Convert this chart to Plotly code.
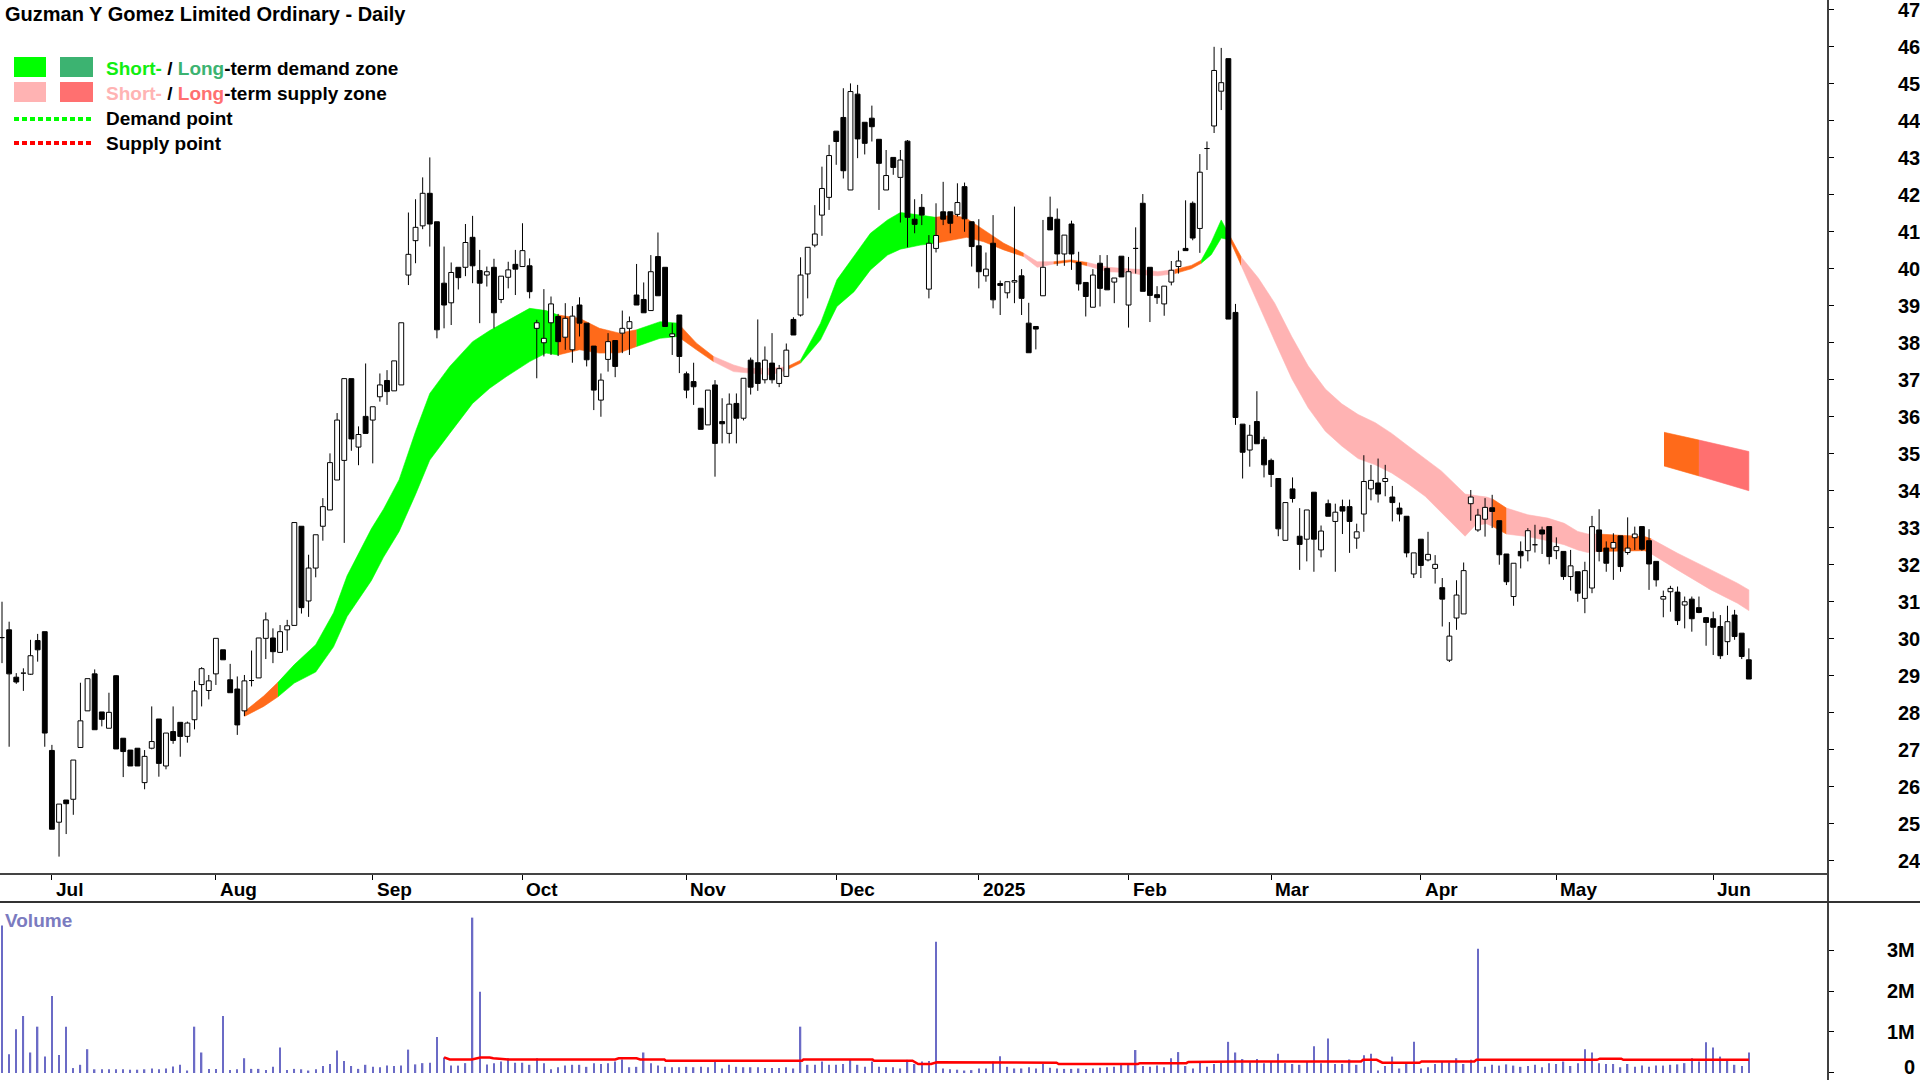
import plotly.graph_objects as go
import pandas as pd

W, H = 1920, 1080

title_text = "Guzman Y Gomez Limited Ordinary - Daily"

asx_holidays = ["2024-12-25", "2024-12-26", "2025-01-01", "2025-01-27",
                "2025-04-18", "2025-04-21", "2025-04-25", "2025-06-09"]
trade_days = [d for d in pd.bdate_range("2024-06-20", "2025-06-10")
              if d.strftime("%Y-%m-%d") not in asx_holidays]

opens = [30.03, 30.24, 28.96, 29.07, 29.04, 29.95, 30.19, 26.98, 25.04, 25.64,
         25.66, 27.06, 28.05, 29.05, 28.02, 27.58, 29.0, 27.31, 26.99, 27.04,
         26.11, 27.04, 27.83, 26.56, 27.49, 27.74, 27.36, 27.81, 28.76, 28.6,
         29.05, 29.7, 28.89, 28.64, 28.05, 28.87, 28.94, 30.01, 30.02, 29.63,
         30.24, 30.36, 33.04, 31.02, 31.91, 33.04, 33.48, 34.29, 34.82, 37.03,
         35.18, 36.01, 35.91, 36.54, 36.98, 36.7, 36.86, 39.83, 40.76, 41.16,
         42.04, 41.27, 39.61, 39.08, 40.04, 40.04, 40.85, 39.95, 39.83, 40.04,
         39.17, 39.77, 40.12, 40.06, 40.08, 38.39, 38.0, 38.54, 38.71, 38.15,
         37.81, 39.02, 38.53, 37.91, 36.45, 37.55, 38.06, 38.26, 38.39, 39.29,
         39.17, 38.87, 40.33, 40.04, 38.17, 38.75, 37.16, 36.95, 36.23, 35.78,
         36.86, 35.87, 35.55, 36.36, 35.96, 37.53, 37.46, 37.0, 37.45, 36.9,
         37.09, 38.63, 38.75, 39.86, 40.64, 41.45, 41.93, 43.72, 44.09, 42.13,
         44.72, 43.96, 44.07, 43.5, 42.13, 43.01, 42.47, 43.45, 41.34, 41.66,
         39.45, 40.55, 41.54, 41.54, 41.47, 42.22, 41.27, 40.62, 39.81, 40.69,
         39.6, 39.35, 39.64, 39.81, 38.53, 38.44, 39.27, 41.39, 41.34, 40.4,
         41.21, 40.17, 39.63, 38.96, 40.15, 40.01, 39.64, 40.34, 39.02, 40.55,
         41.77, 40.04, 39.3, 39.05, 39.64, 40.06, 40.55, 41.77, 41.09, 43.25,
         43.86, 44.8, 45.68, 38.82, 35.8, 35.1, 35.87, 35.38, 34.82, 34.33,
         32.66, 34.05, 32.77, 32.69, 33.96, 32.4, 33.65, 33.17, 33.57, 33.57,
         32.72, 33.37, 34.05, 34.21, 34.25, 33.83, 33.53, 33.31, 31.75, 32.69,
         32.13, 31.9, 31.38, 29.42, 30.56, 30.67, 33.65, 32.94, 33.23, 33.54,
         33.19, 32.29, 31.14, 32.36, 32.38, 32.54, 32.94, 33.03, 32.38, 32.36,
         31.68, 31.81, 31.09, 31.37, 32.94, 32.45, 32.45, 32.78, 32.33, 32.73,
         33.03, 32.65, 32.09, 31.07, 31.27, 31.26, 30.91, 31.07, 30.84, 30.57,
         30.54, 30.33, 29.92, 30.64, 30.15, 29.43]

highs = [31.0, 30.46, 29.07, 29.2, 29.97, 30.13, 30.19, 27.13, 25.53, 25.64,
         26.72, 28.81, 28.92, 29.17, 28.02, 28.54, 29.02, 27.31, 26.99, 27.04,
         26.99, 28.17, 27.83, 27.45, 28.17, 27.74, 27.76, 28.86, 29.23, 29.02,
         30.01, 29.7, 29.32, 28.98, 29.02, 29.68, 30.02, 30.71, 30.28, 30.37,
         30.51, 33.14, 33.04, 32.27, 32.81, 33.8, 35.01, 36.1, 37.03, 37.03,
         35.74, 37.44, 36.27, 37.17, 37.26, 37.51, 38.54, 41.52, 41.88, 42.47,
         43.01, 41.27, 40.6, 40.17, 40.04, 41.21, 41.43, 40.51, 40.06, 40.27,
         39.8, 40.19, 40.51, 41.23, 40.28, 38.62, 39.45, 39.25, 38.78, 39.07,
         38.99, 39.23, 38.53, 37.91, 37.17, 38.26, 38.06, 38.87, 38.71, 40.13,
         39.63, 40.37, 40.98, 40.04, 38.53, 38.75, 37.22, 37.46, 36.23, 36.72,
         36.99, 36.5, 36.63, 36.63, 37.04, 37.6, 38.63, 37.9, 38.26, 37.4,
         37.98, 38.69, 40.31, 40.58, 41.72, 42.76, 43.35, 43.72, 44.88, 45.01,
         44.97, 43.96, 44.41, 43.5, 43.21, 43.01, 43.21, 43.48, 41.88, 42.02,
         40.91, 41.77, 42.35, 41.54, 42.31, 42.33, 41.27, 41.34, 40.44, 41.45,
         39.68, 39.65, 41.68, 39.99, 39.08, 38.44, 41.32, 41.95, 41.63, 40.91,
         41.3, 40.46, 39.63, 39.99, 40.37, 40.37, 39.75, 40.34, 40.32, 41.12,
         42.02, 40.04, 39.53, 39.53, 40.21, 40.49, 41.85, 41.82, 43.1, 43.44,
         46.0, 45.97, 45.68, 39.05, 35.8, 35.78, 36.69, 35.46, 34.87, 34.33,
         33.68, 34.36, 33.53, 33.48, 33.96, 33.06, 33.76, 33.65, 33.76, 33.76,
         33.11, 34.96, 34.7, 34.87, 34.7, 34.13, 33.68, 33.31, 32.32, 32.69,
         32.89, 32.26, 31.64, 30.45, 31.58, 32.06, 34.02, 33.51, 33.8, 33.89,
         33.19, 32.29, 32.04, 32.63, 32.99, 33.08, 33.03, 33.03, 32.74, 32.36,
         32.4, 31.81, 32.08, 33.32, 33.5, 32.63, 32.85, 32.78, 33.28, 33.03,
         33.03, 32.96, 32.09, 31.3, 31.43, 31.41, 31.14, 31.14, 31.14, 30.58,
         30.73, 30.64, 30.89, 30.78, 30.15, 29.74]

lows = [29.34, 27.08, 28.78, 28.59, 29.02, 29.38, 27.08, 24.85, 24.11, 24.72,
        25.24, 27.06, 28.05, 27.54, 27.63, 27.58, 27.02, 26.26, 26.56, 26.56,
        25.93, 27.01, 26.27, 26.47, 27.16, 26.81, 27.19, 27.55, 28.17, 28.36,
        28.75, 29.43, 28.54, 27.4, 27.91, 28.71, 28.94, 29.45, 29.34, 29.63,
        29.68, 30.36, 30.68, 30.59, 31.66, 32.65, 33.48, 34.29, 32.59, 35.08,
        34.69, 35.55, 34.74, 36.41, 36.32, 36.7, 36.86, 39.56, 40.15, 41.07,
        40.6, 38.12, 38.39, 38.48, 39.44, 39.8, 39.61, 38.53, 39.52, 38.39,
        39.07, 39.47, 39.29, 40.06, 39.2, 37.04, 37.63, 37.67, 37.64, 37.81,
        37.46, 38.17, 37.36, 36.18, 36.0, 37.22, 37.07, 37.72, 37.67, 39.02,
        38.81, 38.87, 39.27, 38.44, 37.67, 37.18, 36.5, 36.32, 35.66, 35.78,
        34.38, 35.28, 35.28, 35.28, 35.9, 36.6, 36.7, 36.9, 36.9, 36.8,
        37.09, 38.21, 38.71, 39.2, 40.58, 40.89, 41.59, 42.81, 42.44, 42.13,
        42.99, 43.09, 43.44, 41.59, 42.13, 42.54, 41.25, 40.58, 40.96, 41.18,
        39.2, 40.44, 41.18, 40.96, 41.41, 41.0, 40.06, 39.47, 39.65, 38.93,
        38.75, 39.2, 39.07, 38.75, 37.73, 37.82, 39.27, 41.05, 40.08, 40.08,
        39.97, 39.41, 38.71, 38.96, 38.98, 39.43, 39.07, 39.78, 38.41, 39.87,
        39.39, 38.56, 39.05, 38.73, 39.55, 39.87, 40.49, 40.77, 40.43, 42.67,
        43.67, 44.29, 38.64, 35.78, 34.33, 34.65, 35.27, 34.36, 34.1, 32.77,
        32.66, 33.68, 31.86, 32.09, 31.81, 32.2, 33.31, 31.81, 32.83, 32.32,
        32.43, 32.89, 33.74, 33.68, 33.85, 33.17, 33.17, 32.2, 31.64, 31.64,
        32.09, 31.49, 30.33, 29.37, 30.24, 30.67, 33.19, 32.89, 32.76, 32.99,
        32.0, 31.45, 30.89, 31.9, 32.09, 32.33, 32.29, 32.01, 32.15, 31.59,
        31.3, 31.0, 30.69, 31.23, 32.09, 31.81, 31.59, 31.81, 32.27, 32.4,
        32.38, 31.32, 31.41, 30.58, 30.73, 30.37, 30.28, 30.19, 30.69, 29.81,
        29.56, 29.45, 29.56, 29.97, 29.45, 28.91]

closes = [30.04, 29.05, 28.83, 29.08, 29.54, 29.7, 27.45, 24.85, 25.53, 25.54,
          26.72, 27.78, 28.92, 27.54, 27.82, 28.01, 27.02, 26.95, 26.56, 26.56,
          26.82, 27.22, 26.63, 27.45, 27.25, 27.36, 27.72, 28.59, 29.19, 28.86,
          30.01, 29.43, 28.54, 27.67, 28.86, 28.88, 30.02, 30.51, 29.65, 30.19,
          30.35, 33.14, 30.84, 31.91, 32.81, 33.57, 34.76, 35.91, 37.03, 35.4,
          35.52, 35.55, 36.27, 36.86, 36.68, 37.51, 38.54, 40.39, 41.12, 42.04,
          41.21, 38.35, 39.02, 39.9, 39.76, 40.71, 40.08, 39.61, 39.92, 38.81,
          39.8, 39.97, 39.99, 40.49, 39.38, 38.54, 38.12, 39.05, 38.03, 38.66,
          38.72, 38.53, 37.54, 36.72, 36.99, 38.03, 37.36, 38.39, 38.57, 39.02,
          38.81, 39.92, 39.27, 38.44, 38.24, 37.63, 36.72, 36.81, 35.66, 36.72,
          35.28, 35.81, 36.34, 35.96, 37.04, 36.8, 36.9, 37.53, 37.0, 37.3,
          37.8, 38.21, 39.83, 40.58, 40.94, 42.17, 43.06, 43.44, 42.65, 44.79,
          43.51, 43.39, 43.84, 42.85, 42.52, 42.74, 42.94, 41.39, 41.2, 41.45,
          40.69, 40.9, 41.34, 41.23, 41.79, 41.35, 40.6, 39.92, 39.99, 39.16,
          39.55, 39.65, 39.68, 39.2, 37.73, 38.37, 40.04, 41.05, 40.4, 40.91,
          40.4, 39.59, 39.25, 39.83, 39.47, 39.43, 39.75, 39.78, 39.92, 40.56,
          39.39, 39.28, 39.22, 39.53, 39.96, 40.21, 40.49, 40.83, 42.61, 43.26,
          45.36, 45.03, 38.64, 35.98, 35.04, 35.5, 35.27, 34.7, 34.44, 32.97,
          33.68, 33.79, 32.55, 33.48, 32.69, 32.91, 33.31, 33.42, 33.45, 33.17,
          32.89, 34.25, 34.28, 33.91, 34.33, 33.68, 33.37, 32.32, 32.32, 31.98,
          32.28, 32.01, 31.07, 30.07, 31.18, 31.84, 33.83, 33.34, 33.55, 33.44,
          32.27, 31.54, 32.04, 32.24, 32.92, 32.56, 32.83, 32.22, 32.49, 31.68,
          31.97, 31.23, 31.84, 33.03, 32.36, 32.04, 32.6, 31.95, 32.45, 32.83,
          32.42, 32.02, 31.59, 31.14, 31.36, 30.49, 31.0, 30.54, 30.71, 30.44,
          30.31, 29.54, 30.46, 30.06, 29.52, 28.91]

volume_m = [3.6, 0.46, 1.07, 1.39, 0.5, 1.13, 0.4, 1.88, 0.44, 1.13,
            0.12, 0.2, 0.58, 0.09, 0.09, 0.09, 0.09, 0.09, 0.08, 0.08,
            0.09, 0.11, 0.09, 0.11, 0.16, 0.2, 0.06, 1.13, 0.5, 0.1,
            0.1, 1.39, 0.07, 0.09, 0.36, 0.1, 0.1, 0.07, 0.15, 0.62,
            0.07, 0.1, 0.09, 0.06, 0.09, 0.17, 0.22, 0.55, 0.29, 0.17,
            0.1, 0.2, 0.15, 0.14, 0.18, 0.17, 0.18, 0.57, 0.21, 0.24,
            0.25, 0.88, 0.38, 0.18, 0.18, 0.24, 3.79, 1.98, 0.21, 0.24,
            0.28, 0.36, 0.25, 0.25, 0.2, 0.36, 0.24, 0.09, 0.14, 0.18,
            0.2, 0.2, 0.15, 0.24, 0.22, 0.24, 0.28, 0.33, 0.14, 0.15,
            0.5, 0.24, 0.18, 0.15, 0.14, 0.14, 0.15, 0.14, 0.15, 0.14,
            0.28, 0.11, 0.2, 0.15, 0.14, 0.14, 0.14, 0.12, 0.12, 0.12,
            0.14, 0.11, 1.13, 0.2, 0.2, 0.28, 0.2, 0.2, 0.22, 0.33,
            0.2, 0.15, 0.28, 0.15, 0.14, 0.14, 0.11, 0.32, 0.22, 0.28,
            0.29, 3.2, 0.11, 0.09, 0.08, 0.06, 0.07, 0.11, 0.11, 0.28,
            0.41, 0.15, 0.11, 0.11, 0.14, 0.11, 0.22, 0.13, 0.11, 0.1,
            0.1, 0.11, 0.1, 0.11, 0.13, 0.14, 0.15, 0.2, 0.21, 0.56,
            0.17, 0.15, 0.18, 0.14, 0.36, 0.51, 0.17, 0.11, 0.28, 0.15,
            0.22, 0.25, 0.76, 0.5, 0.34, 0.26, 0.34, 0.24, 0.28, 0.47,
            0.24, 0.22, 0.2, 0.28, 0.65, 0.24, 0.84, 0.22, 0.22, 0.33,
            0.2, 0.43, 0.47, 0.06, 0.17, 0.4, 0.11, 0.22, 0.76, 0.11,
            0.14, 0.22, 0.28, 0.26, 0.36, 0.22, 0.32, 3.03, 0.15, 0.2,
            0.18, 0.21, 0.18, 0.15, 0.17, 0.2, 0.14, 0.24, 0.22, 0.28,
            0.17, 0.24, 0.58, 0.5, 0.24, 0.22, 0.22, 0.14, 0.22, 0.15,
            0.18, 0.15, 0.18, 0.18, 0.2, 0.21, 0.24, 0.36, 0.28, 0.75,
            0.62, 0.4, 0.32, 0.2, 0.17, 0.5]

# volume moving-average line (read at its steps)
vma_idx = [62, 62.8, 65.9, 67.1, 68.4, 68.9, 71, 86, 86.5, 89, 89.5, 92.9, 93.1,
           112.2, 112.4, 122.1, 122.3, 127.7, 128.5, 130.3, 131.1, 147.9, 148.2,
           159.3, 159.6, 166.1, 166.4, 173.4, 190.6, 190.9, 192.8, 193.6, 198.8,
           199.1, 206.5, 206.8, 223.7, 224.1, 227.1, 227.4, 245]
vma_val = [0.38, 0.33, 0.33, 0.38, 0.38, 0.36, 0.33, 0.33, 0.36, 0.36, 0.33, 0.33, 0.30,
           0.30, 0.33, 0.33, 0.30, 0.30, 0.22, 0.22, 0.26, 0.25, 0.22,
           0.22, 0.24, 0.24, 0.27, 0.28, 0.28, 0.32, 0.32, 0.25, 0.25,
           0.28, 0.28, 0.32, 0.32, 0.35, 0.35, 0.32, 0.32]

# short-term demand/supply zone band
zone_idx = [34, 36.7, 38.7, 41, 44, 46.5, 48.4, 51.8, 53.5, 55.7, 58, 60, 62.8, 66, 68.4,
            70.7, 74, 76.3, 78, 81, 83.8, 86.6, 89, 92.3, 94.8, 97.4, 99.8, 102.6, 104.2,
            107.8, 110.1, 112, 114.8, 117.1, 119.5, 121.8, 124.2, 126, 128.8, 130.9, 133.5,
            135.3, 137.7, 140.5, 143.3, 145.2, 147.5, 149.9, 152.2, 155.1, 157.9, 159.8,
            162.1, 164.5, 166.8, 168.2, 169.6, 171, 172.2, 173.8, 176.2, 178.5, 180.9,
            183.2, 185.6, 187.9, 190.2, 192.6, 194.9, 197.2, 199.6, 201.9, 204.3, 205.2,
            206.6, 208.2, 209.1, 211, 214, 216.8, 219.1, 221, 222.4, 223.8, 226.6, 230.4,
            231.3, 235, 239.7, 243.4, 245]
zone_upper = [28.03, 28.45, 28.82, 29.3, 29.84, 30.7, 31.7, 32.97, 33.5, 34.3, 35.6, 36.63,
              37.36, 38.03, 38.33, 38.57, 38.93, 38.87, 38.75, 38.66, 38.39, 38.26, 38.35,
              38.57, 38.53, 37.99, 37.63, 37.4, 37.31, 37.31, 37.35, 37.53, 38.53, 39.7,
              40.33, 40.96, 41.32, 41.52, 41.45, 41.39, 41.45, 41.36, 41.05, 40.69, 40.42,
              40.19, 40.19, 40.24, 40.17, 40.04, 40.0, 39.98, 39.92, 39.98, 40.09, 40.23,
              40.72, 41.32, 40.89, 40.32, 39.75, 39.07, 38.16, 37.37, 36.75, 36.35, 36.06,
              35.84, 35.55, 35.21, 34.87, 34.53, 34.08, 33.91, 33.87, 33.83, 33.77, 33.53,
              33.35, 33.26, 33.12, 32.9, 32.83, 32.83, 32.8, 32.76, 32.7, 32.31, 31.86,
              31.5, 31.32]
zone_lower = [27.9, 28.17, 28.43, 28.8, 29.1, 29.78, 30.6, 31.57, 32.2, 32.9, 33.9, 34.83,
              35.55, 36.36, 36.77, 37.08, 37.49, 37.72, 37.67, 37.81, 37.72, 37.73, 37.9,
              38.12, 38.17, 37.81, 37.49, 37.22, 37.18, 37.13, 37.27, 37.45, 38.08, 38.98,
              39.38, 39.97, 40.37, 40.53, 40.64, 40.69, 40.78, 40.85, 40.73, 40.51, 40.33,
              40.04, 40.13, 40.19, 40.08, 39.92, 39.9, 39.84, 39.81, 39.87, 40.0, 40.15,
              40.38, 40.83, 40.78, 40.09, 39.07, 38.05, 37.03, 36.24, 35.61, 35.21, 34.87,
              34.7, 34.48, 34.19, 33.85, 33.4, 32.94, 32.77, 33.06, 33.11, 33.03, 32.83,
              32.76, 32.65, 32.54, 32.4, 32.33, 32.36, 32.38, 32.38, 32.3, 31.86, 31.32,
              30.96, 30.76]
zone_segments = [(34, 38.7, "orange"), (38.7, 78, "green"), (78, 89, "orange"),
                 (89, 94.8, "green"), (94.8, 99.8, "orange"), (99.8, 110.1, "pink"),
                 (110.1, 112, "orange"), (112, 130.9, "green"), (130.9, 143.3, "orange"),
                 (143.3, 147.5, "pink"), (147.5, 152.2, "orange"), (152.2, 164.5, "pink"),
                 (164.5, 168.2, "orange"), (168.2, 172.2, "green"), (172.2, 173.8, "orange"),
                 (173.8, 209.1, "pink"), (209.1, 211, "orange"), (211, 223.8, "pink"),
                 (223.8, 231.3, "orange"), (231.3, 245, "pink")]

# long-term supply zone block
lt_idx = [233.1, 238, 245]
lt_upper = [35.58, 35.37, 35.06]
lt_lower = [34.67, 34.4, 34.0]
lt_segments = [(233.1, 238, "orange"), (238, 245, "salmon")]

month_labels = ["Jul", "Aug", "Sep", "Oct", "Nov", "Dec", "2025", "Feb", "Mar", "Apr", "May", "Jun"]
price_ticks = list(range(24, 48))
volume_ticks = [0, 1, 2, 3]
volume_tick_text = ["0", "1M", "2M", "3M"]

COLORS = {"green": "#00FF00", "orange": "#FF6A1A", "pink": "#FFB3B3", "salmon": "#FF7070"}
FONT = "Liberation Sans, Arial, sans-serif"

n = len(trade_days)
xs = list(range(n))
month_pos = [i for i in range(1, n) if trade_days[i].month != trade_days[i - 1].month]


def px(x):
    return x / W


def py(y):
    return 1 - y / H


fig = go.Figure()


def add_band(idx, up, lo, a, b, color):
    pts = [(i, u, l) for i, u, l in zip(idx, up, lo) if a - 1e-9 <= i <= b + 1e-9]
    bx = [p[0] for p in pts] + [p[0] for p in reversed(pts)]
    by = [p[1] for p in pts] + [p[2] for p in reversed(pts)]
    fig.add_trace(go.Scatter(x=bx, y=by, fill="toself", fillcolor=color, mode="lines",
                             line=dict(width=0.6, color=color), hoverinfo="skip",
                             xaxis="x", yaxis="y"))


for a, b, c in zone_segments:
    add_band(zone_idx, zone_upper, zone_lower, a, b, COLORS[c])
for a, b, c in lt_segments:
    add_band(lt_idx, lt_upper, lt_lower, a, b, COLORS[c])

# volume
fig.add_trace(go.Bar(x=xs, y=volume_m, width=0.2, marker=dict(color="#6B6BC6", line=dict(width=0)),
                     hoverinfo="skip", xaxis="x2", yaxis="y2"))
fig.add_trace(go.Scatter(x=vma_idx, y=vma_val, mode="lines", line=dict(color="#FF0000", width=2.5),
                         hoverinfo="skip", xaxis="x2", yaxis="y2"))

# candles: wicks then bodies
wx, wy = [], []
bw_x, bw_y, bb_x, bb_y = [], [], [], []
hw = 0.34
for i in range(n):
    o, h, l, c = opens[i], highs[i], lows[i], closes[i]
    top, bot = max(o, c), min(o, c)
    wx += [i, i, None, i, i, None]
    wy += [max(h, top), top, None, bot, min(l, bot), None]
    rx = [i - hw, i + hw, i + hw, i - hw, i - hw, None]
    ry = [bot, bot, top, top, bot, None]
    if c >= o:
        bw_x += rx
        bw_y += ry
    else:
        bb_x += rx
        bb_y += ry

fig.add_trace(go.Scatter(x=wx, y=wy, mode="lines", line=dict(color="#000", width=1),
                         hoverinfo="skip", xaxis="x", yaxis="y"))
fig.add_trace(go.Scatter(x=bw_x, y=bw_y, mode="lines", fill="toself", fillcolor="#FFFFFF",
                         line=dict(color="#000", width=1), hoverinfo="skip", xaxis="x", yaxis="y"))
fig.add_trace(go.Scatter(x=bb_x, y=bb_y, mode="lines", fill="toself", fillcolor="#000000",
                         line=dict(color="#000", width=1), hoverinfo="skip", xaxis="x", yaxis="y"))

x_range = [-0.28, 256.1]
plot_right = 1828

shapes = [
    dict(type="line", xref="paper", yref="paper", x0=px(plot_right), x1=px(plot_right), y0=0, y1=1,
         line=dict(color="#000", width=1.5)),
    dict(type="line", xref="paper", yref="paper", x0=0, x1=px(plot_right), y0=py(874), y1=py(874),
         line=dict(color="#444", width=2)),
    dict(type="line", xref="paper", yref="paper", x0=0, x1=1, y0=py(902), y1=py(902),
         line=dict(color="#333", width=2)),
    # legend swatches
    dict(type="rect", xref="paper", yref="paper", x0=px(14), x1=px(46), y0=py(77), y1=py(57),
         fillcolor="#00FF00", line=dict(width=0)),
    dict(type="rect", xref="paper", yref="paper", x0=px(60), x1=px(93), y0=py(77), y1=py(57),
         fillcolor="#3CB371", line=dict(width=0)),
    dict(type="rect", xref="paper", yref="paper", x0=px(14), x1=px(46), y0=py(102), y1=py(82),
         fillcolor="#FFB3B3", line=dict(width=0)),
    dict(type="rect", xref="paper", yref="paper", x0=px(60), x1=px(93), y0=py(102), y1=py(82),
         fillcolor="#FF7070", line=dict(width=0)),
    dict(type="line", xref="paper", yref="paper", x0=px(14), x1=px(92), y0=py(119), y1=py(119),
         line=dict(color="#00FF00", width=4, dash="5px,3px")),
    dict(type="line", xref="paper", yref="paper", x0=px(14), x1=px(92), y0=py(143), y1=py(143),
         line=dict(color="#FF0000", width=4, dash="5px,3px")),
]

annotations = [
    dict(text="<b>" + title_text + "</b>", xref="paper", yref="paper", x=px(3), y=py(14),
         xanchor="left", yanchor="middle", showarrow=False, font=dict(size=20, color="#000")),
    dict(text="<b>Volume</b>", xref="paper", yref="paper", x=px(3), y=py(920),
         xanchor="left", yanchor="middle", showarrow=False, font=dict(size=19, color="#7B7BC0")),
]
legend_rows = [
    ('<b><span style="color:#11EE11">Short-</span> / <span style="color:#3CB371">Long</span>-term demand zone</b>', 68),
    ('<b><span style="color:#FFB3B3">Short-</span> / <span style="color:#FF7070">Long</span>-term supply zone</b>', 94),
    ("<b>Demand point</b>", 119),
    ("<b>Supply point</b>", 143),
]
for txt, yy in legend_rows:
    annotations.append(dict(text=txt, xref="paper", yref="paper", x=px(104), y=py(yy),
                            xanchor="left", yanchor="middle", showarrow=False,
                            font=dict(size=19, color="#000")))
for pos, lab in zip(month_pos, month_labels):
    annotations.append(dict(text="<b>" + lab + "</b>", xref="x", yref="paper", x=pos, y=py(889),
                            xanchor="left", yanchor="middle", xshift=2, showarrow=False,
                            font=dict(size=19, color="#000")))
for v, t in zip(volume_ticks, volume_tick_text):
    annotations.append(dict(text="<b>" + t + "</b>", xref="paper", yref="y2", x=px(1917), y=v,
                            xanchor="right", yanchor="middle", showarrow=False,
                            yshift=6 if v == 0 else 0,
                            font=dict(size=20, color="#000")))

fig.update_layout(
    width=W, height=H, margin=dict(l=0, r=0, t=0, b=0),
    paper_bgcolor="white", plot_bgcolor="white", showlegend=False, hovermode=False,
    font=dict(family=FONT, color="#000"),
    xaxis=dict(domain=[0, px(plot_right)], range=x_range, anchor="y", showgrid=False,
               zeroline=False, showline=False, tickmode="array", tickvals=month_pos,
               ticks="outside", ticklen=5, tickcolor="#000", tickwidth=1, showticklabels=False),
    yaxis=dict(domain=[py(874), 1], range=[23.64, 47.265], side="right", anchor="x",
               showgrid=False, zeroline=False, showline=False, tickmode="array",
               tickvals=price_ticks, ticktext=[str(v) for v in price_ticks],
               ticks="outside", ticklen=5, tickcolor="#000", tickwidth=1,
               tickfont=dict(family=FONT, size=20, color="#000", weight="bold"),
               ticklabelstandoff=60, ticklabeloverflow="allow"),
    xaxis2=dict(domain=[0, px(plot_right)], range=x_range, anchor="y2", matches="x",
                showgrid=False, zeroline=False, showline=False, showticklabels=False, ticks=""),
    yaxis2=dict(domain=[0, py(902)], range=[-0.171, 4.171], side="right", anchor="x2",
                showgrid=False, zeroline=False, showline=False, tickmode="array",
                tickvals=volume_ticks, ticks="outside", ticklen=5, tickcolor="#000",
                showticklabels=False),
    shapes=shapes, annotations=annotations,
)

fig.write_html("out.html", config={"displayModeBar": False},
               post_script="document.body.style.margin='0';document.body.style.overflow='hidden';")
